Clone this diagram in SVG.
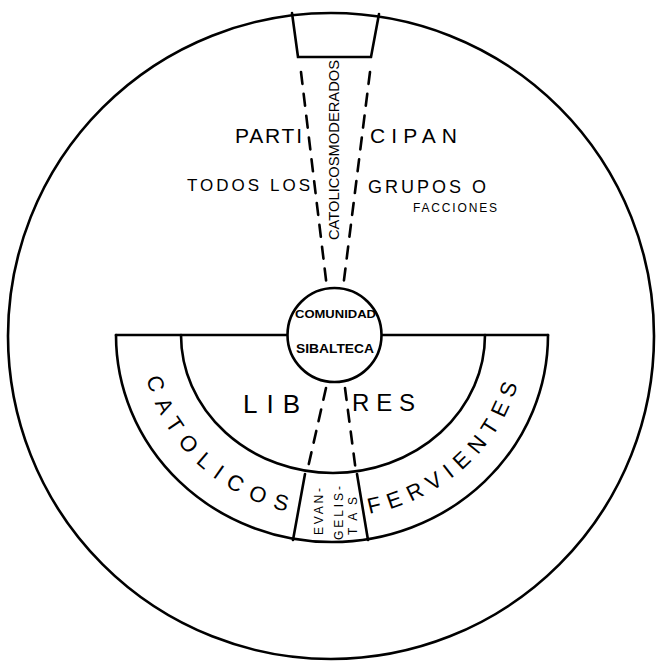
<svg xmlns="http://www.w3.org/2000/svg" width="661" height="664" viewBox="0 0 661 664">
<style>
.ln{fill:none;stroke:#000;stroke-width:2.6;stroke-linecap:round}
.ds{fill:none;stroke:#000;stroke-width:2.6;stroke-dasharray:12 10;stroke-linecap:round}
.t{font-family:"Liberation Sans",Arial,sans-serif;fill:#000}
</style>
<defs>
<path id="arcL" d="M 141,335 A 192 182 0 0 0 525,335"/>
</defs>
<rect width="661" height="664" fill="#fff"/>
<g id="outer-circle">
<circle class="ln" cx="331" cy="336" r="323"/>
</g>
<g id="top-box">
<path class="ln" d="M 292,13 L 298,57 L 371,57 L 379,14"/>
</g>
<g id="semicircle">
<path class="ln" d="M 116,335 A 216 207 0 0 0 548,335"/>
<path class="ln" d="M 181,335 A 152 138 0 0 0 485,335"/>
<line class="ln" x1="116" y1="335" x2="548" y2="335"/>
</g>
<g id="connectors">
<line class="ds" x1="301" y1="72" x2="327" y2="288"/>
<line class="ds" x1="370" y1="72" x2="343" y2="288"/>
<line class="ds" x1="326" y1="388" x2="307" y2="472"/>
<line class="ds" x1="345" y1="388" x2="356" y2="472"/>
</g>
<g id="evangelistas">
<line class="ln" x1="305" y1="474" x2="293" y2="540"/>
<line class="ln" x1="357" y1="474" x2="368" y2="540"/>
<text class="t" font-size="12" transform="translate(323,535) rotate(-90)" textLength="47" lengthAdjust="spacing">EVAN-</text>
<text class="t" font-size="12" transform="translate(343,540) rotate(-90)" textLength="54" lengthAdjust="spacing">GELIS-</text>
<text class="t" font-size="12" transform="translate(357,535) rotate(-90)" textLength="38" lengthAdjust="spacing">TAS</text>
</g>
<g id="comunidad">
<circle cx="334.5" cy="335" r="47" fill="#fff" stroke="#000" stroke-width="2.6"/>
<text class="t" font-size="11" font-weight="bold" x="295" y="318" textLength="81" lengthAdjust="spacingAndGlyphs">COMUNIDAD</text>
<text class="t" font-size="12" font-weight="bold" x="296" y="353" textLength="78" lengthAdjust="spacingAndGlyphs">SIBALTECA</text>
</g>
<g id="labels">
<text class="t" font-size="14" transform="translate(339,240) rotate(-90)" textLength="180" lengthAdjust="spacingAndGlyphs">CATOLICOSMODERADOS</text>
<text class="t" font-size="21" x="235" y="143" textLength="67" lengthAdjust="spacing">PARTI</text>
<text class="t" font-size="21" x="370" y="143" textLength="87" lengthAdjust="spacing">CIPAN</text>
<text class="t" font-size="17" x="187" y="191" textLength="123" lengthAdjust="spacing">TODOS LOS</text>
<text class="t" font-size="18" x="368" y="193" textLength="118" lengthAdjust="spacing">GRUPOS O</text>
<text class="t" font-size="12" x="413" y="212" textLength="84" lengthAdjust="spacing">FACCIONES</text>
<text class="t" font-size="26" x="243" y="413" textLength="57" lengthAdjust="spacing">LIB</text>
<text class="t" font-size="24" x="352" y="411" textLength="63" lengthAdjust="spacing">RES</text>
<text class="t" font-size="22" letter-spacing="9.7"><textPath href="#arcL" startOffset="44">CATOLICOS</textPath></text>
<text class="t" font-size="22" letter-spacing="7.7"><textPath href="#arcL" startOffset="330">FERVIENTES</textPath></text>
</g>
</svg>
